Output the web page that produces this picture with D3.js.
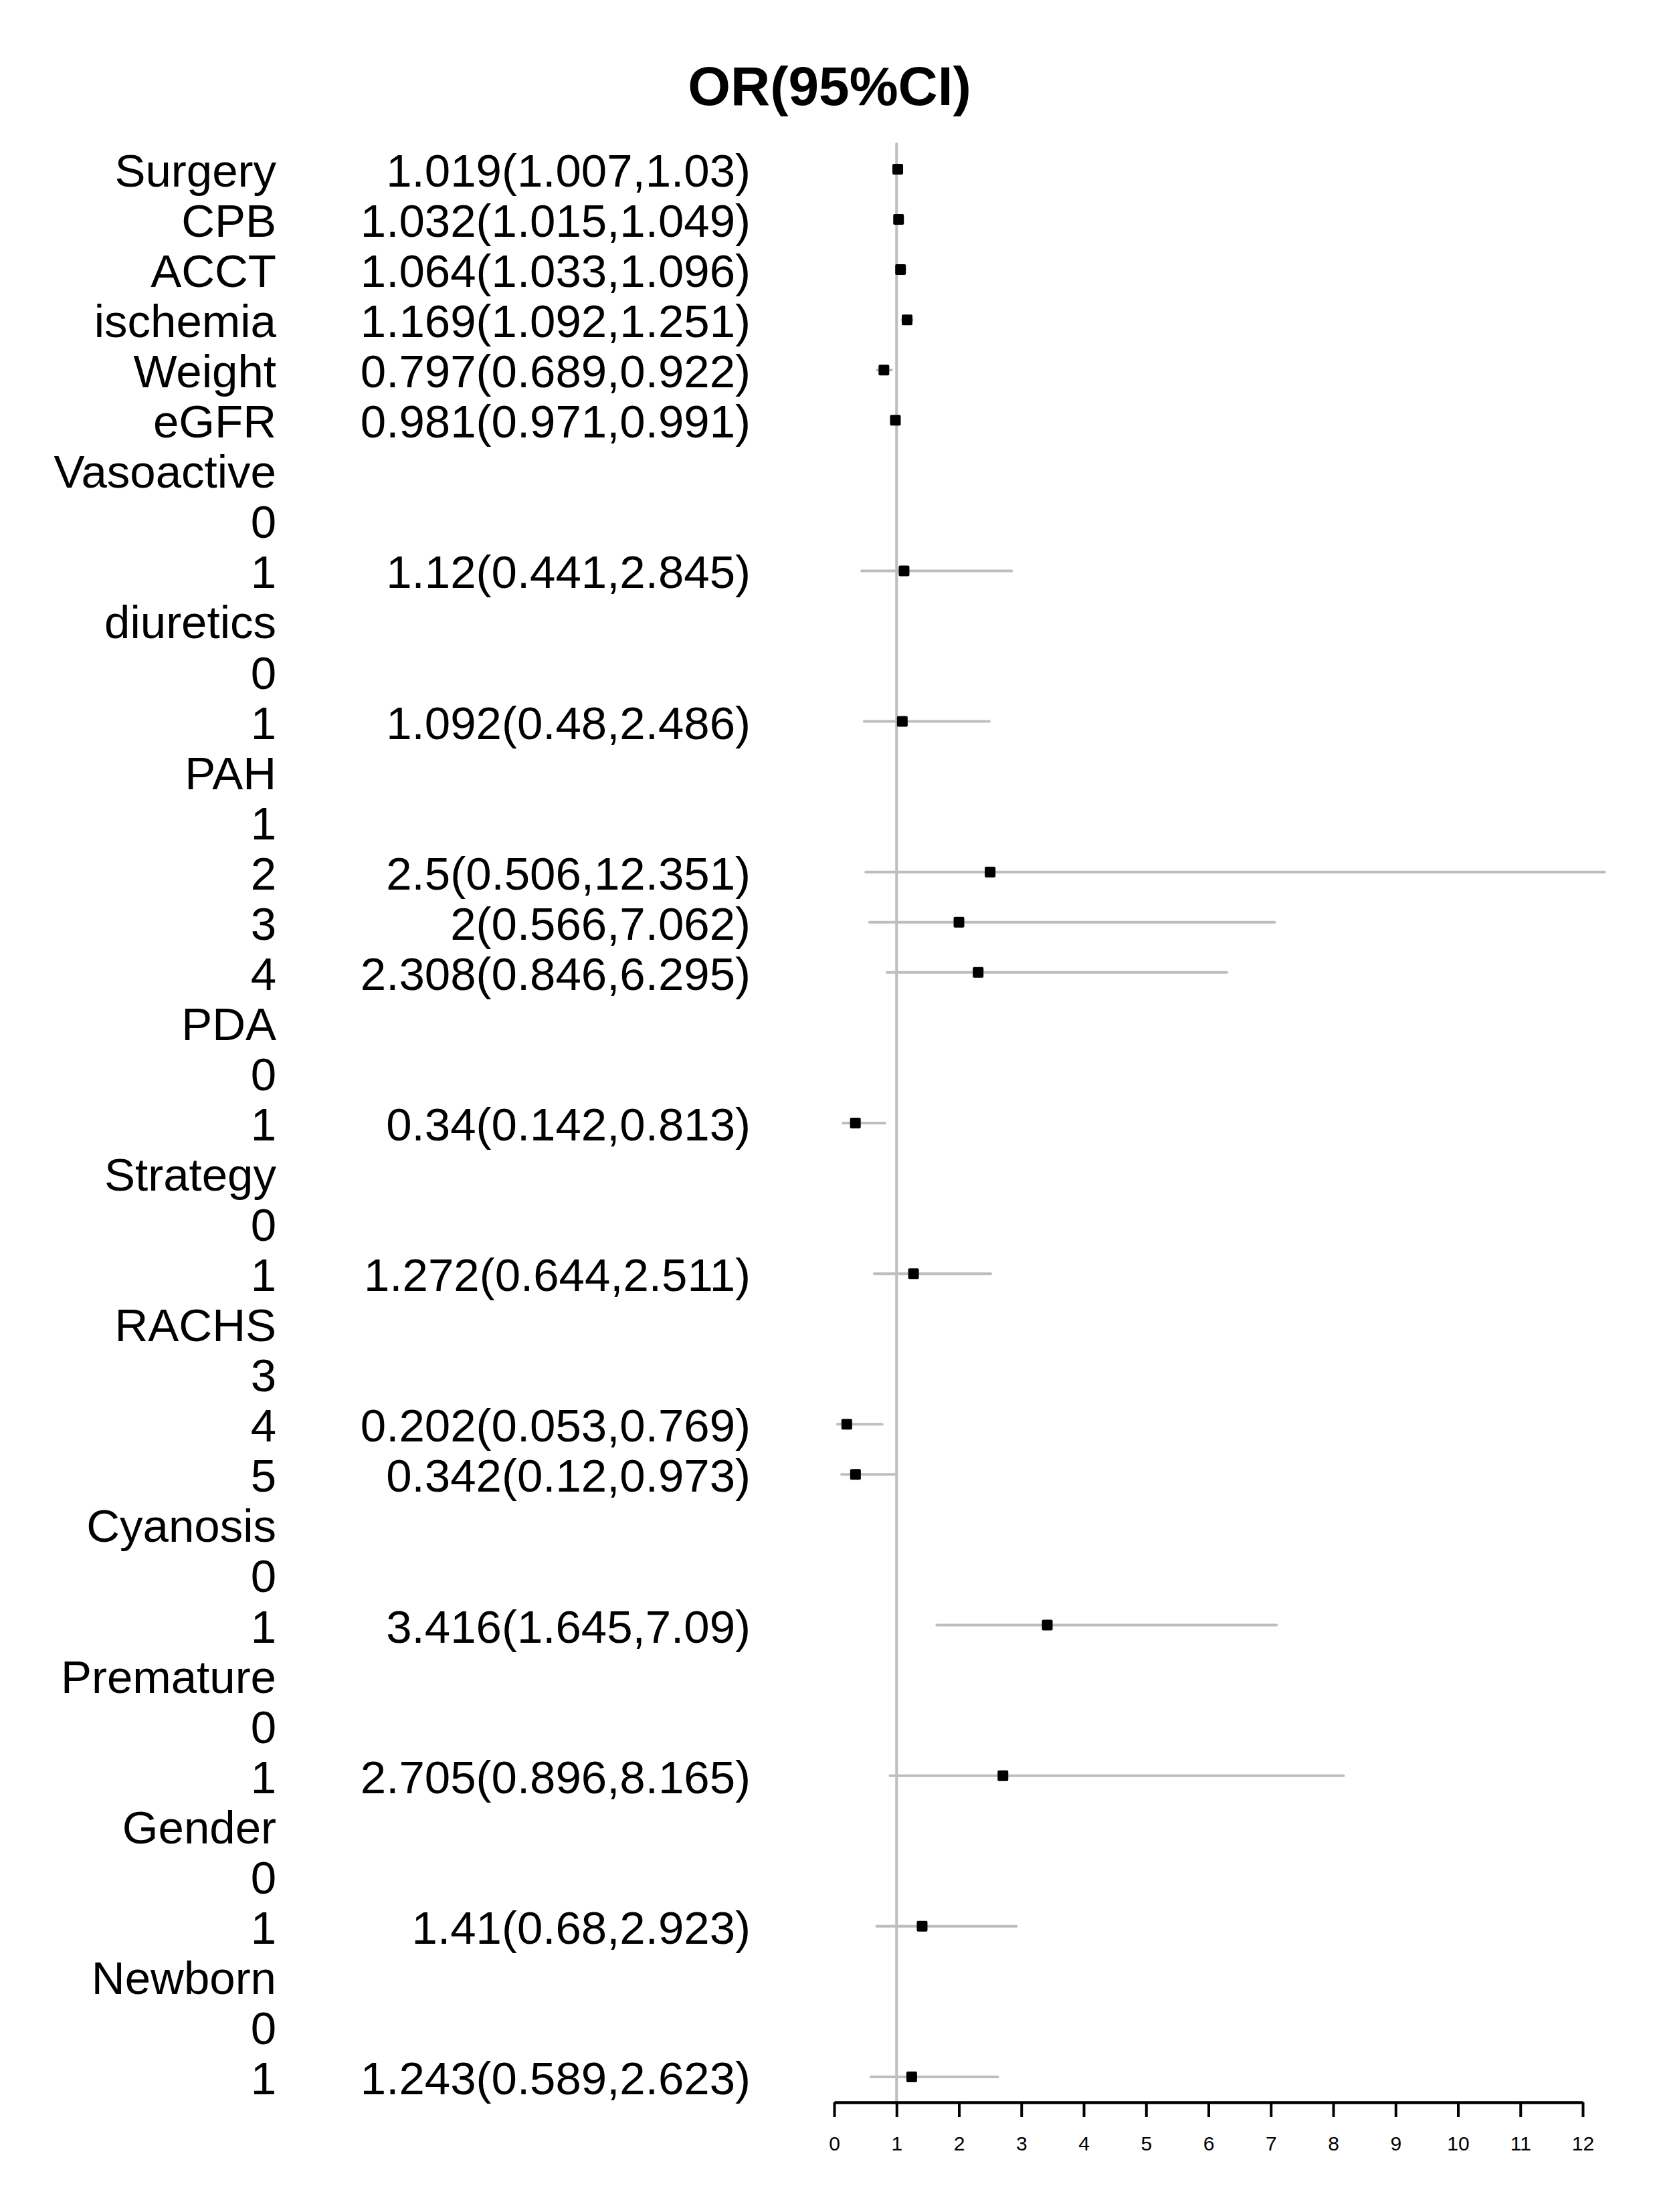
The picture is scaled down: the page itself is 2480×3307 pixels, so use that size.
<!DOCTYPE html>
<html>
<head>
<meta charset="utf-8">
<script src="https://cdn.jsdelivr.net/npm/d3@7"></script>
<style>
  body { margin: 0; background: #fff; }
  text { font-family: "Liberation Sans", Arial, sans-serif; }
</style>
</head>
<body>
<div id="forest"></div>
<script>
// row labels, top to bottom
var labels = ["Surgery", "CPB", "ACCT", "ischemia", "Weight", "eGFR",
    "Vasoactive", "0", "1",
    "diuretics", "0", "1",
    "PAH", "1", "2", "3", "4",
    "PDA", "0", "1",
    "Strategy", "0", "1",
    "RACHS", "3", "4", "5",
    "Cyanosis", "0", "1",
    "Premature", "0", "1",
    "Gender", "0", "1",
    "Newborn", "0", "1"];

var or_values = [1.019, 1.032, 1.064, 1.169, 0.797, 0.981,
    null, null, 1.12,
    null, null, 1.092,
    null, null, 2.5, 2, 2.308,
    null, null, 0.34,
    null, null, 1.272,
    null, null, 0.202, 0.342,
    null, null, 3.416,
    null, null, 2.705,
    null, null, 1.41,
    null, null, 1.243];

var lower = [1.007, 1.015, 1.033, 1.092, 0.689, 0.971,
    null, null, 0.441,
    null, null, 0.48,
    null, null, 0.506, 0.566, 0.846,
    null, null, 0.142,
    null, null, 0.644,
    null, null, 0.053, 0.12,
    null, null, 1.645,
    null, null, 0.896,
    null, null, 0.68,
    null, null, 0.589];

var upper = [1.03, 1.049, 1.096, 1.251, 0.922, 0.991,
    null, null, 2.845,
    null, null, 2.486,
    null, null, 12.351, 7.062, 6.295,
    null, null, 0.813,
    null, null, 2.511,
    null, null, 0.769, 0.973,
    null, null, 7.09,
    null, null, 8.165,
    null, null, 2.923,
    null, null, 2.623];

var x_ticks = [0, 1, 2, 3, 4, 5, 6, 7, 8, 9, 10, 11, 12];

var width = 2480;
var height = 3307;

var rows = labels.map(function(d, i) {
    return { label: d, or: or_values[i], lo: lower[i], hi: upper[i] };
});

var svg = d3.select("#forest")
    .append("svg")
    .attr("width", width)
    .attr("height", height);

svg.append("rect")
    .attr("width", width)
    .attr("height", height)
    .attr("fill", "#fff");

var x = d3.scaleLinear()
    .domain([0, 12])
    .range([1247, 2366]);

var y = d3.scalePoint()
    .domain(d3.range(rows.length))
    .range([253, 3105]);

var axis_y = 3143;

// title
svg.append("text")
    .attr("x", width / 2)
    .attr("y", 157)
    .attr("text-anchor", "middle")
    .style("font-size", "82px")
    .style("font-weight", "bold")
    .text("OR(95%CI)");

// reference line at OR = 1
svg.append("line")
    .attr("x1", x(1))
    .attr("x2", x(1))
    .attr("y1", y(0) - 38)
    .attr("y2", axis_y)
    .attr("stroke", "#bebebe")
    .attr("stroke-width", 4)
    .attr("stroke-linecap", "round");

// variable names
svg.selectAll("labelText")
    .data(rows)
    .enter()
    .append("text")
    .attr("x", 413)
    .attr("y", function(d, i) { return y(i) + 26; })
    .attr("text-anchor", "end")
    .style("font-size", "69px")
    .text(function(d) { return d.label; });

var est = rows.filter(function(d) { return d.or !== null; });

// OR(95%CI) text
svg.selectAll("orText")
    .data(est)
    .enter()
    .append("text")
    .attr("x", 1122)
    .attr("y", function(d) { return y(rows.indexOf(d)) + 26; })
    .attr("text-anchor", "end")
    .style("font-size", "69px")
    .text(function(d) { return d.or + "(" + d.lo + "," + d.hi + ")"; });

// CI lines
svg.selectAll("ciLines")
    .data(est)
    .enter()
    .append("line")
    .attr("x1", function(d) { return x(d.lo); })
    .attr("x2", function(d) { return x(d.hi); })
    .attr("y1", function(d) { return y(rows.indexOf(d)); })
    .attr("y2", function(d) { return y(rows.indexOf(d)); })
    .attr("stroke", "#bebebe")
    .attr("stroke-width", 4)
    .attr("stroke-linecap", "round");

// point estimates
var box = 16;
svg.selectAll("boxes")
    .data(est)
    .enter()
    .append("rect")
    .attr("x", function(d) { return x(d.or) - box / 2; })
    .attr("y", function(d) { return y(rows.indexOf(d)) - box / 2; })
    .attr("width", box)
    .attr("height", box)
    .attr("rx", 2)
    .attr("fill", "#000");

// x axis
var gx = svg.append("g")
    .attr("transform", "translate(0," + axis_y + ")")
    .call(d3.axisBottom(x)
        .tickValues(x_ticks)
        .tickSize(22)
        .tickSizeOuter(0)
        .tickPadding(29)
        .tickFormat(d3.format("d")));

gx.select(".domain")
    .attr("stroke", "#000")
    .attr("stroke-width", 4.5);
gx.selectAll(".tick line")
    .attr("stroke", "#000")
    .attr("stroke-width", 4);
gx.selectAll(".tick text")
    .attr("fill", "#000")
    .style("font-family", "'Liberation Sans', Arial, sans-serif")
    .style("font-size", "30px");
</script>
</body>
</html>
